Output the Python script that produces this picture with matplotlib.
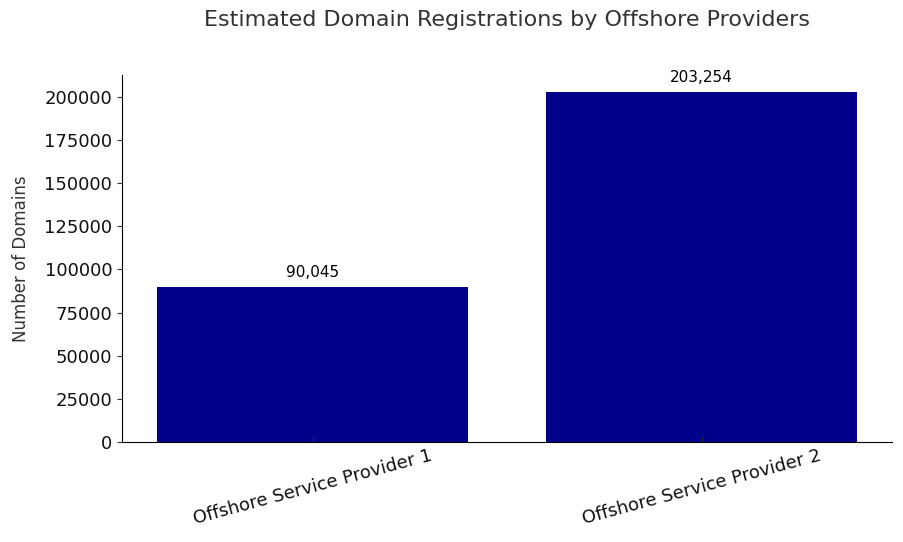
import matplotlib.pyplot as plt

providers = ["Offshore Service Provider 1", "Offshore Service Provider 2"]
domains = [90045, 203254]

fig, ax = plt.subplots(figsize=(9.04, 5.42), dpi=100)
fig.subplots_adjust(left=0.135, right=0.987, top=0.862, bottom=0.185)

bars = ax.bar(providers, domains, color="darkblue")
for b, v in zip(bars, domains):
    ax.annotate(f"{v:,}", (b.get_x() + b.get_width() / 2, v),
                xytext=(0, 5), textcoords="offset points",
                ha="center", va="bottom", fontsize=11)

ax.set_title("Estimated Domain Registrations by Offshore Providers",
             fontsize=16, color="#333333", pad=35)
ax.set_ylabel("Number of Domains", fontsize=12, color="#333333", labelpad=10)
ax.set_yticks(range(0, 200001, 25000))
ax.set_ylim(0, 213000)
ax.tick_params(axis="y", labelsize=13, colors="#333333", labelcolor="#111111")
ax.tick_params(axis="x", labelsize=13, colors="#333333", labelcolor="#111111",
               direction="in")
plt.setp(ax.get_xticklabels(), rotation=15)
ax.spines["top"].set_visible(False)
ax.spines["right"].set_visible(False)

plt.savefig("out.png")
